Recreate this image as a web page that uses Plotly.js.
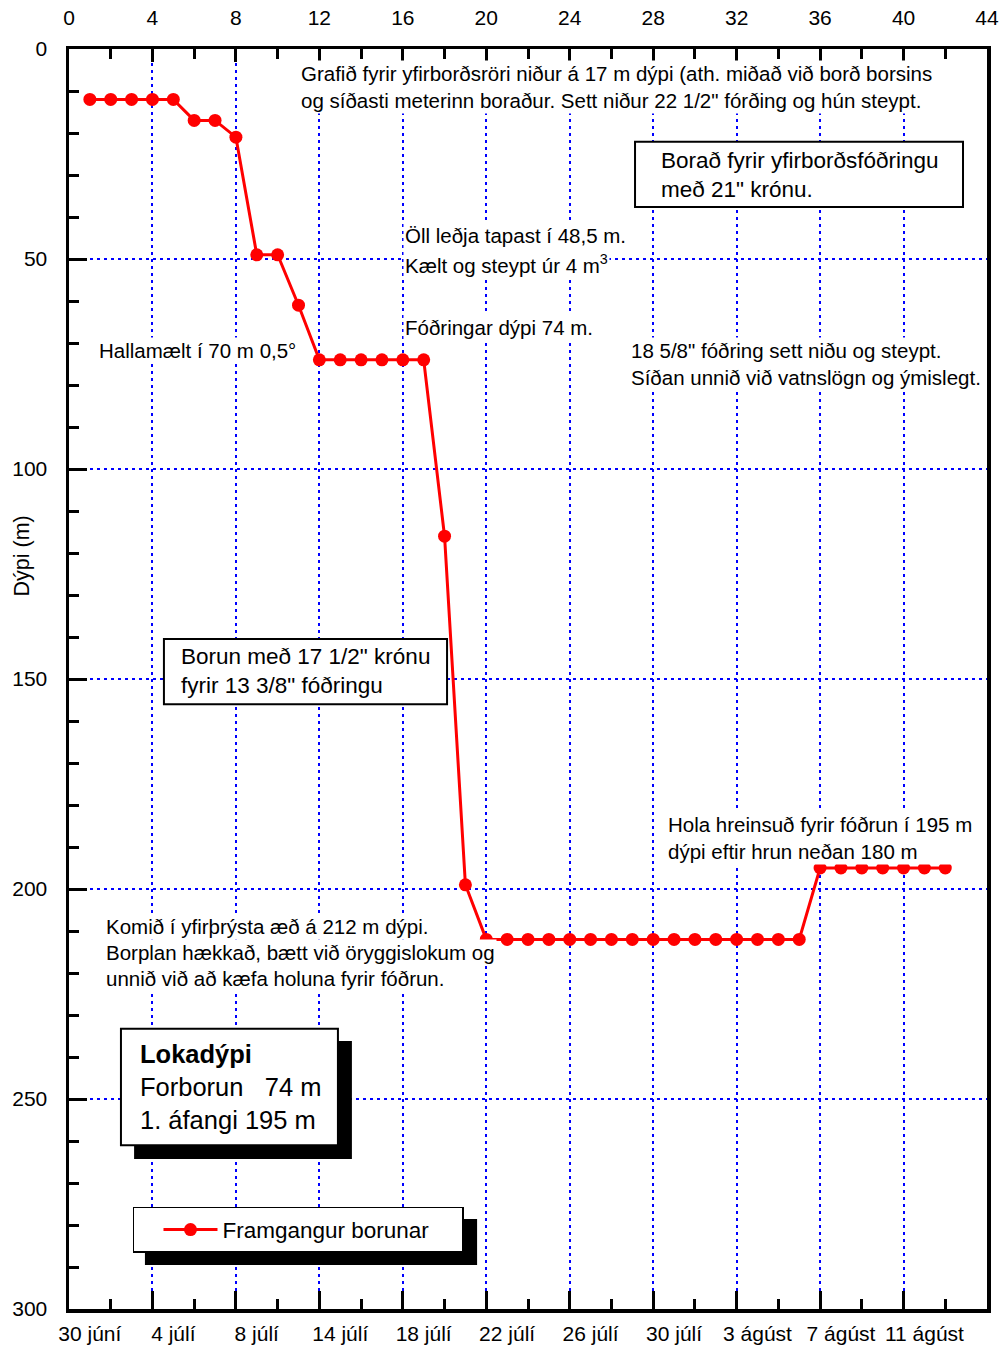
<!DOCTYPE html>
<html>
<head>
<meta charset="utf-8">
<script src="https://cdn.plot.ly/plotly-3.0.1.min.js"></script>
<style>
  body { margin: 0; background: #fff; }
  #plot { width: 1004px; height: 1348px; }
</style>
</head>
<body>
<div id="plot"></div>
<script>
// Framgangur borunar: dagur frá upphafi og dýpi (m)
const days = [1, 2, 3, 4, 5, 6, 7, 8, 9, 10, 11, 12, 13, 14, 15, 16, 17, 18, 19, 20,
              21, 22, 23, 24, 25, 26, 27, 28, 29, 30, 31, 32, 33, 34, 35,
              36, 37, 38, 39, 40, 41, 42];
const depth = [12, 12, 12, 12, 12, 17, 17, 21, 49, 49, 61, 74, 74, 74, 74, 74, 74, 116, 199, 212,
               212, 212, 212, 212, 212, 212, 212, 212, 212, 212, 212, 212, 212, 212, 212,
               195, 195, 195, 195, 195, 195, 195];

// dagsetningar neðst
const dateTickVals = [1, 5, 9, 13, 17, 21, 25, 29, 33, 37, 41];
const dateTickText = ['30 júní', '4 júlí', '8 júlí', '14 júlí', '18 júlí', '22 júlí',
                      '26 júlí', '30 júlí', '3 ágúst', '7 ágúst', '11 ágúst'];

const FONT = 'Liberation Sans, Arial, sans-serif';
const gridDash = '3px,4px';

let traces = [{
    x: days,
    y: depth,
    type: 'scatter',
    mode: 'lines+markers',
    name: 'Framgangur borunar',
    line: { color: '#ff0000', width: 3 },
    marker: { color: '#ff0000', size: 13, symbol: 'circle' },
    hoverinfo: 'x+y'
}];

// ósýnilegir ferlar svo efri ásinn og dagsetningaásinn teiknist
['x2', 'x3'].forEach(function (ax) {
    traces.push({
        x: days, y: depth, xaxis: ax, yaxis: 'y',
        type: 'scatter', mode: 'markers',
        marker: { opacity: 0 },
        showlegend: false, hoverinfo: 'skip'
    });
});

// texti á grafinu
function note(x, y, text, extra) {
    return Object.assign({
        x: x, y: y, xref: 'x', yref: 'y',
        text: text,
        showarrow: false,
        xanchor: 'left', yanchor: 'middle',
        align: 'left',
        bgcolor: '#ffffff',
        borderpad: 1,
        font: { family: FONT, size: 20.5, color: '#000' }
    }, extra || {});
}

const boxFont = { family: FONT, size: 22.5, color: '#000' };

let annotations = [
    note(11.0, 9.05, 'Grafið fyrir yfirborðsröri niður á 17 m dýpi (ath. miðað við borð borsins<br>og síðasti meterinn boraður. Sett niður 22 1/2" fórðing og hún steypt.'),
    note(16.0, 44.3, 'Öll leðja tapast í 48,5 m.'),
    note(16.0, 51.2, 'Kælt og steypt úr 4 m<sup>3</sup>'),
    note(16.0, 66.4, 'Fóðringar dýpi 74 m.'),
    note(1.35, 71.9, 'Hallamælt í 70 m 0,5°'),
    note(26.85, 74.9, '18 5/8" fóðring sett niðu og steypt.<br>Síðan unnið við vatnslögn og ýmislegt.'),
    note(28.3, 29.9, 'Borað fyrir yfirborðsfóðringu<br>með 21" krónu.', { bgcolor: 'rgba(0,0,0,0)', font: boxFont }),
    note(5.25, 148.0, 'Borun með 17 1/2" krónu<br>fyrir 13 3/8" fóðringu', { bgcolor: 'rgba(0,0,0,0)', font: boxFont }),
    note(1.7, 209.0, 'Komið í yfirþrýsta æð á 212 m dýpi.'),
    note(1.7, 215.2, 'Borplan hækkað, bætt við öryggislokum og'),
    note(1.7, 221.2, 'unnið við að kæfa holuna fyrir fóðrun.'),
    note(28.6, 187.9, 'Hola hreinsuð fyrir fóðrun í 195 m<br>dýpi eftir hrun neðan 180 m'),
    note(3.3, 247.1, '<b>Lokadýpi</b><br>Forborun\u00a0\u00a0\u00a074 m<br>1. áfangi 195 m',
         { bgcolor: 'rgba(0,0,0,0)', font: { family: FONT, size: 25.5, color: '#000' } }),
    {
        xref: 'paper', yref: 'paper', x: -0.0512, y: 0.598,
        xanchor: 'center', yanchor: 'middle',
        text: 'Dýpi (m)', textangle: -90, showarrow: false,
        font: { family: FONT, size: 21.5, color: '#000' }
    }
];

function box(x0, x1, y0, y1, fill, lw) {
    return {
        type: 'rect', xref: 'x', yref: 'y', layer: 'above',
        x0: x0, x1: x1, y0: y0, y1: y1,
        fillcolor: fill,
        line: { color: '#000', width: lw }
    };
}

let shapes = [
    box(27.13, 42.85, 22.1, 37.6, '#ffffff', 2),      // Borað fyrir ...
    box(4.55, 18.12, 140.5, 156.0, '#ffffff', 2),     // Borun með ...
    box(3.12, 13.56, 236.2, 264.3, '#000000', 0),     // skuggi Lokadýpi
    box(2.49, 12.89, 233.3, 261.0, '#ffffff', 2),     // Lokadýpi
    box(3.64, 19.56, 278.6, 289.5, '#000000', 0)      // skuggi skýringar
];

const tickFont = { family: FONT, size: 21, color: '#000' };

const layout = {
    width: 1004,
    height: 1348,
    margin: { l: 69, r: 17, t: 49, b: 39 },
    paper_bgcolor: '#ffffff',
    plot_bgcolor: '#ffffff',
    font: { family: FONT, color: '#000' },
    showlegend: true,
    legend: {
        orientation: 'h',
        x: 0.0697, y: 0.081, xanchor: 'left', yanchor: 'top',
        bgcolor: '#ffffff', bordercolor: '#000', borderwidth: 1.5,
        font: { family: FONT, size: 22.5, color: '#000' },
        itemwidth: 54,
        indentation: 24,
        entrywidthmode: 'pixels',
        entrywidth: 235
    },
    xaxis: {
        range: [0, 44],
        showline: true, linecolor: '#000', linewidth: 3.5,
        ticks: 'inside', ticklen: 18, tickwidth: 3, tickcolor: '#000',
        tick0: 0, dtick: 4,
        minor: { dtick: 2, ticks: 'inside', ticklen: 10, tickwidth: 3, tickcolor: '#000' },
        showticklabels: false,
        showgrid: true, gridcolor: '#0000ff', gridwidth: 2, griddash: gridDash,
        zeroline: false
    },
    xaxis2: {
        range: [0, 44],
        overlaying: 'x', side: 'top', anchor: 'y',
        showline: true, linecolor: '#000', linewidth: 3.5,
        ticks: 'inside', ticklen: 13, tickwidth: 3, tickcolor: '#000',
        tick0: 0, dtick: 4,
        minor: { dtick: 2, ticks: 'inside', ticklen: 10, tickwidth: 3, tickcolor: '#000' },
        tickfont: tickFont, ticklabelstandoff: 12,
        showgrid: false, zeroline: false
    },
    xaxis3: {
        range: [0, 44],
        overlaying: 'x', side: 'bottom', anchor: 'y',
        showline: false, ticks: '',
        tickmode: 'array', tickvals: dateTickVals, ticktext: dateTickText,
        tickfont: tickFont, ticklabelstandoff: 10,
        showgrid: false, zeroline: false
    },
    yaxis: {
        range: [300, 0],
        showline: true, linecolor: '#000', linewidth: 3.5, mirror: true,
        ticks: 'inside', ticklen: 18, tickwidth: 3, tickcolor: '#000',
        tick0: 0, dtick: 50,
        minor: { dtick: 10, ticks: 'inside', ticklen: 10, tickwidth: 3, tickcolor: '#000' },
        tickfont: tickFont, ticklabelstandoff: 14,
        showgrid: true, gridcolor: '#0000ff', gridwidth: 1.5, griddash: gridDash,
        zeroline: false
    },
    annotations: annotations,
    shapes: shapes
};

Plotly.newPlot('plot', traces, layout, { displayModeBar: false, staticPlot: true });
</script>
</body>
</html>
